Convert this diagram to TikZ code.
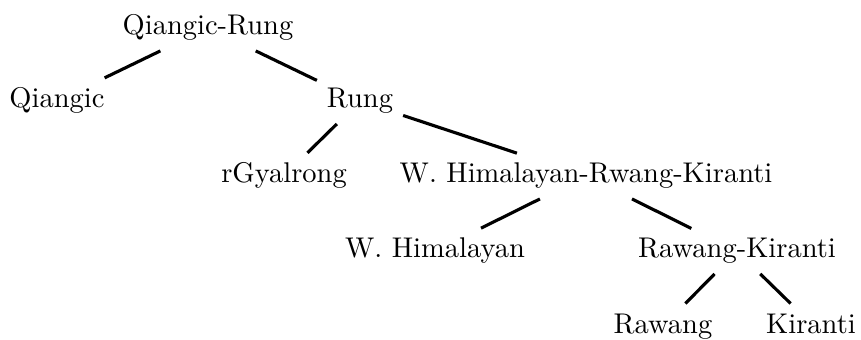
\documentclass[tikz,border=0pt]{standalone}
\begin{document}
\begin{tikzpicture}[x=0.3509pt,y=-0.3509pt,
  lang/.style={anchor=base,inner sep=3.33pt},
  branch/.style={line width=1.1pt}]
\useasboundingbox (0,0) rectangle (861,340);
\node[lang] (qr) at (208,35) {Qiangic-Rung};
\node[lang] (q) at (57,108) {Qiangic};
\node[lang] (r) at (360,108) {Rung};
\node[lang] (rg) at (284,183) {rGyalrong};
\node[lang] (whrk) at (586,183) {W. Himalayan-Rwang-Kiranti};
\node[lang] (wh) at (435,258) {W. Himalayan};
\node[lang] (rk) at (737,258) {Rawang-Kiranti};
\node[lang] (ra) at (663,333) {Rawang};
\node[lang] (ki) at (811,333) {Kiranti};
\draw[branch] (qr) -- (q);
\draw[branch] (qr) -- (r);
\draw[branch] (r) -- (rg);
\draw[branch] (r) -- (whrk);
\draw[branch] (whrk) -- (wh);
\draw[branch] (whrk) -- (rk);
\draw[branch] (rk) -- (ra);
\draw[branch] (rk) -- (ki);
\end{tikzpicture}
\end{document}
